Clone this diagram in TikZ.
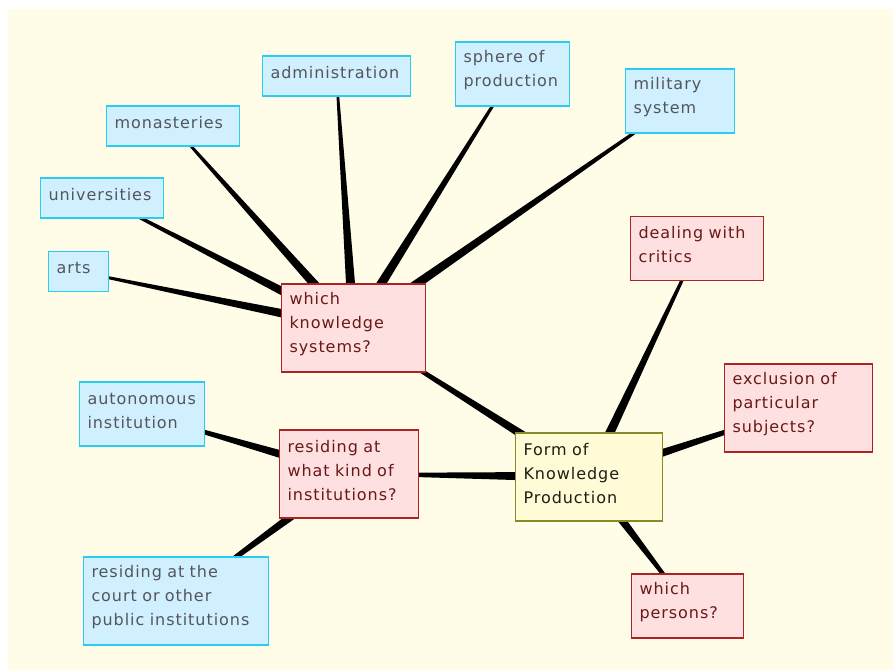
\documentclass[tikz,border=0pt]{standalone}
\usepackage{fontspec}
\setmainfont{DejaVu Sans}[LetterSpace=6]
\usetikzlibrary{calc}
\pgfdeclarelayer{bg}
\pgfdeclarelayer{edges}
\pgfsetlayers{bg,edges,main}
\definecolor{cream}{RGB}{255,253,232}
\definecolor{bluefill}{RGB}{208,240,255}
\definecolor{blueline}{RGB}{40,205,240}
\definecolor{bluetext}{RGB}{85,85,92}
\definecolor{redfill}{RGB}{255,224,224}
\definecolor{redline}{RGB}{170,36,36}
\definecolor{redtext}{RGB}{105,25,25}
\definecolor{yelfill}{RGB}{255,251,214}
\definecolor{yelline}{RGB}{132,140,40}
\definecolor{yeltext}{RGB}{30,30,20}
\tikzset{
  nbox/.style={rectangle, line width=1.3pt, inner xsep=8pt, inner ysep=0pt,
    align=left, font=\fontsize{16}{24}\selectfont, anchor=center,
    execute at end node={\par\vspace*{7pt}}},
  bluebox/.style={nbox, fill=bluefill, draw=blueline, text=bluetext},
  redbox/.style={nbox, fill=redfill, draw=redline, text=redtext},
  centerbox/.style={nbox, fill=yelfill, draw=yelline, text=yeltext},
}
\newcommand{\branch}[2]{%
  \begin{pgfonlayer}{edges}
  \fill[black] let \p1=(#1.center), \p2=(#2.center), \n1={atan2(\y2-\y1,\x2-\x1)} in
    ($(#1.center)+(\n1+90:1pt)$) -- ($(#2.center)+(\n1+90:5.25pt)$) --
    ($(#2.center)+(\n1-90:5.25pt)$) -- ($(#1.center)+(\n1-90:1pt)$) -- cycle;
  \end{pgfonlayer}}
\begin{document}
\begin{tikzpicture}[x=1pt,y=-1pt]
\useasboundingbox (0,0) rectangle (893,670);
\begin{pgfonlayer}{bg}
\fill[white] (0,0) rectangle (893,670);
\fill[cream] (8,9) rectangle (893,670);
\end{pgfonlayer}
% central
\node[centerbox, text width=131pt, minimum height=88pt] (center) at (589,477) {Form of\\Knowledge\\Production};
% red
\node[redbox, text width=128pt, minimum height=88pt] (ks) at (353.5,328) {which\\knowledge\\systems?};
\node[redbox, text width=123pt, minimum height=88pt] (res) at (349,474) {residing at\\what kind of\\institutions?};
\node[redbox, text width=117pt, minimum height=64pt] (deal) at (697,248.5) {dealing with\\critics};
\node[redbox, text width=132pt, minimum height=88pt] (excl) at (798.5,408) {exclusion of\\particular\\subjects?};
\node[redbox, text width=96pt, minimum height=64pt] (pers) at (687.5,606) {which\\persons?};
% blue
\node[bluebox, text width=132pt, minimum height=40pt] (adm) at (336.5,76) {administration};
\node[bluebox, text width=98pt, minimum height=64pt] (sph) at (512.5,74) {sphere of\\production};
\node[bluebox, text width=93pt, minimum height=64pt] (mil) at (680,101) {military\\system};
\node[bluebox, text width=117pt, minimum height=40pt] (mon) at (173,126) {monasteries};
\node[bluebox, text width=107pt, minimum height=40pt] (uni) at (102,198) {universities};
\node[bluebox, text width=44pt, minimum height=40pt] (arts) at (78.5,271.5) {arts};
\node[bluebox, text width=109pt, minimum height=64pt] (auto) at (142,414) {autonomous\\institution};
\node[bluebox, text width=169pt, minimum height=88pt] (court) at (176,601) {residing at the\\court or other\\public institutions};
% connectors
\branch{ks}{center}
\branch{res}{center}
\branch{deal}{center}
\branch{excl}{center}
\branch{pers}{center}
\branch{adm}{ks}
\branch{sph}{ks}
\branch{mil}{ks}
\branch{mon}{ks}
\branch{uni}{ks}
\branch{arts}{ks}
\branch{auto}{res}
\branch{court}{res}
\end{tikzpicture}
\end{document}
